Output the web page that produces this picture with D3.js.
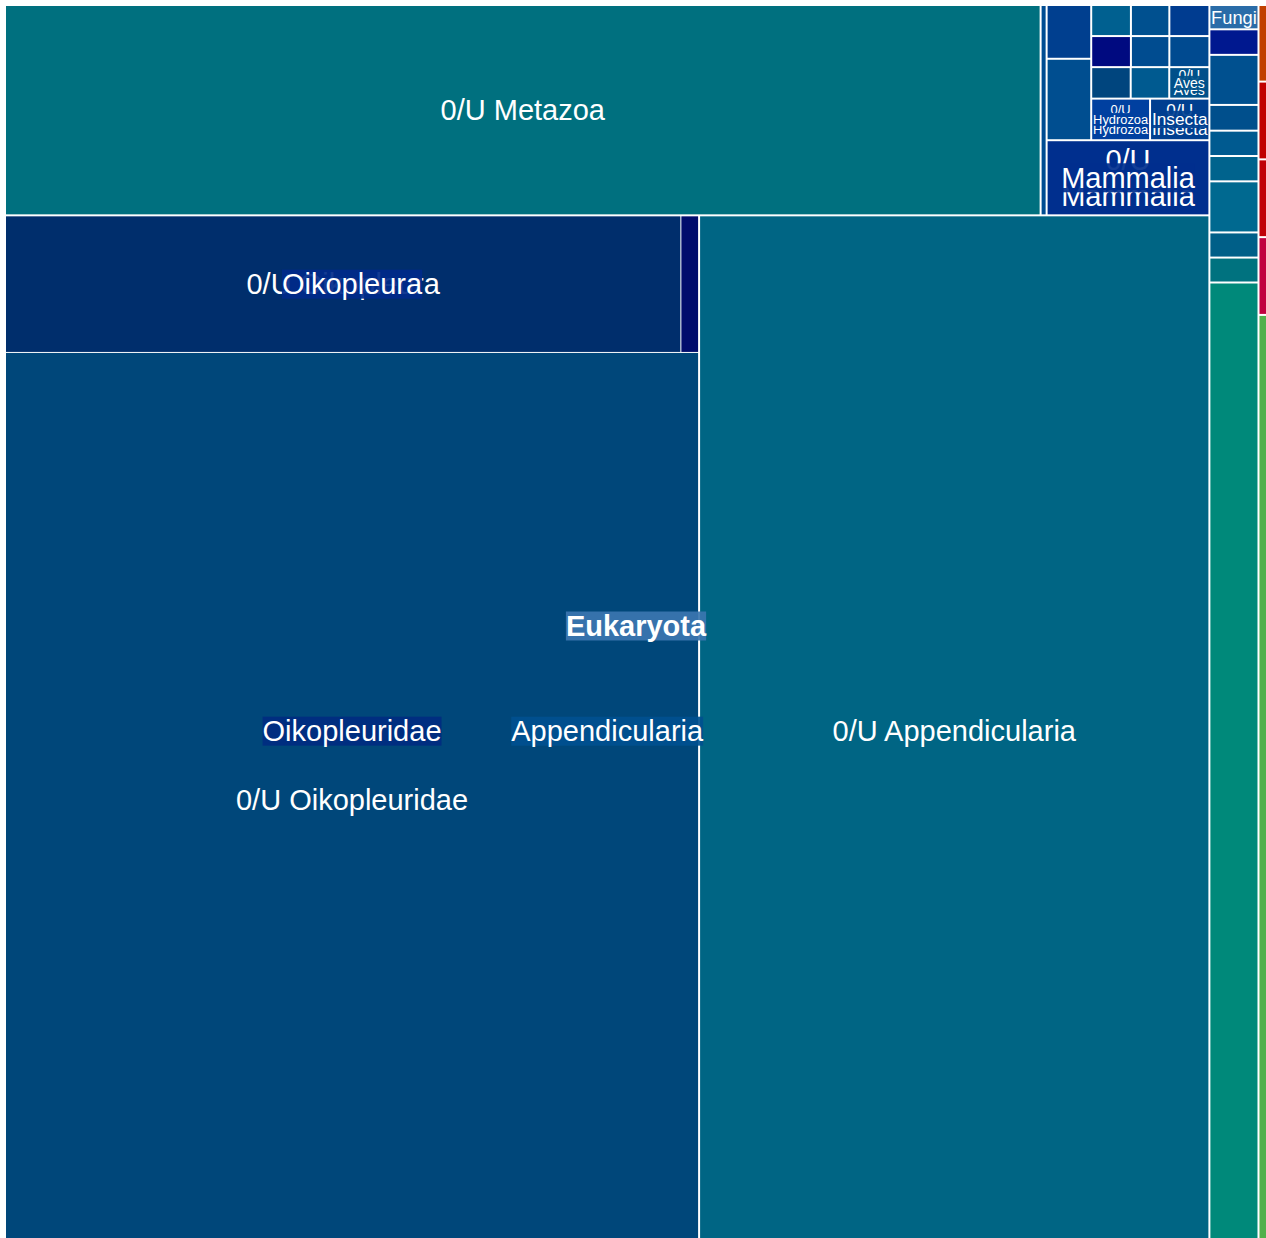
<!DOCTYPE html>
<html>
<head>
<meta charset="utf-8">
<script src="https://cdn.jsdelivr.net/npm/d3@7"></script>
<style>
    html, body { margin: 0; padding: 0; overflow: hidden; background: #fff; }
    text { font-family: "Liberation Sans", Arial, Helvetica, sans-serif; fill: #fff; }
</style>
</head>
<body>
<div id="treemap"></div>
<script>
// taxonomy table: taxon, parent taxon, rank, read count (leaves only)
const taxa = [
    'Eukaryota',
    'Opisthokonta', 'Stramenopiles', 'Alveolata', 'Rhizaria', 'Haptista', 'Viridiplantae',
    'Metazoa', 'Fungi', 'Choanoflagellata', 'Ichthyosporea', 'Rotosphaerida', 'Nucleariida',
    'Corallochytrea', 'Pluriformea', 'Opisthosporidia', 'Ministeriida', '0/U Opisthokonta',
    '0/U Metazoa', 'Demospongiae', 'Gastropoda', 'Polychaeta', 'Actinopteri', 'Hexanauplia',
    'Malacostraca', 'Anthozoa', 'Arachnida', 'Cephalopoda', 'Chromadorea', 'Scyphozoa',
    'Aves', 'Hydrozoa', 'Insecta', 'Mammalia', 'Appendicularia',
    '0/U Aves', '0/U Hydrozoa', '0/U Insecta', '0/U Mammalia',
    'Oikopleuridae', '0/U Appendicularia',
    'Oikopleura', '0/U Oikopleuridae',
    '0/U Oikopleura', 'Oikopleura dioica'
];
const parentTaxa = [
    '',
    'Eukaryota', 'Eukaryota', 'Eukaryota', 'Eukaryota', 'Eukaryota', 'Eukaryota',
    'Opisthokonta', 'Opisthokonta', 'Opisthokonta', 'Opisthokonta', 'Opisthokonta', 'Opisthokonta',
    'Opisthokonta', 'Opisthokonta', 'Opisthokonta', 'Opisthokonta', 'Opisthokonta',
    'Metazoa', 'Metazoa', 'Metazoa', 'Metazoa', 'Metazoa', 'Metazoa',
    'Metazoa', 'Metazoa', 'Metazoa', 'Metazoa', 'Metazoa', 'Metazoa',
    'Metazoa', 'Metazoa', 'Metazoa', 'Metazoa', 'Metazoa',
    'Aves', 'Hydrozoa', 'Insecta', 'Mammalia',
    'Appendicularia', 'Appendicularia',
    'Oikopleuridae', 'Oikopleuridae',
    'Oikopleura', 'Oikopleura'
];
const ranks = [
    'superkingdom',
    'clade', 'clade', 'clade', 'clade', 'clade', 'kingdom',
    'kingdom', 'kingdom', 'class', 'class', 'order', 'order',
    'class', 'order', 'clade', 'order', 'unassigned',
    'unassigned', 'class', 'class', 'class', 'class', 'class',
    'class', 'class', 'class', 'class', 'class', 'class',
    'class', 'class', 'class', 'class', 'class',
    'unassigned', 'unassigned', 'unassigned', 'unassigned',
    'family', 'unassigned',
    'genus', 'unassigned',
    'unassigned', 'species'
];
const reads = [
    0,
    0, 65, 66, 66, 66, 791,
    0, 119, 125, 245, 126, 124,
    124, 250, 123, 122, 4720,
    21714, 126, 239, 362, 123, 119,
    124, 123, 119, 124, 124, 121,
    0, 0, 0, 0, 0,
    126, 244, 246, 1219,
    0, 52479,
    0, 61920,
    9218, 242
];

// ranks whose parent boxes carry a label
const labelledRanks = ['superkingdom', 'class', 'family', 'genus'];

// how children are arranged inside a parent ('x' = side by side, 'y' = stacked)
const arrangement = {
    'Eukaryota': ['x', 'Opisthokonta',
        ['y', 'Stramenopiles', 'Alveolata', 'Rhizaria', 'Haptista', 'Viridiplantae']],
    'Opisthokonta': ['x', 'Metazoa',
        ['y', 'Fungi', 'Choanoflagellata', 'Ichthyosporea', 'Rotosphaerida', 'Nucleariida',
            'Corallochytrea', 'Pluriformea', 'Opisthosporidia', 'Ministeriida', '0/U Opisthokonta']],
    'Metazoa': ['y',
        ['x', '0/U Metazoa', 'Demospongiae',
            ['y',
                ['x',
                    ['y', 'Gastropoda', 'Polychaeta'],
                    ['y',
                        ['x', 'Actinopteri', 'Hexanauplia', 'Malacostraca'],
                        ['x', 'Anthozoa', 'Arachnida', 'Cephalopoda'],
                        ['x', 'Chromadorea', 'Scyphozoa', 'Aves'],
                        ['x', 'Hydrozoa', 'Insecta']]],
                'Mammalia']],
        'Appendicularia'],
    'Appendicularia': ['x', 'Oikopleuridae', '0/U Appendicularia'],
    'Oikopleuridae': ['y', 'Oikopleura', '0/U Oikopleuridae'],
    'Oikopleura': ['x', '0/U Oikopleura', 'Oikopleura dioica']
};

const cellColours = {
    'Stramenopiles': '#c04000', 'Alveolata': '#c00000', 'Rhizaria': '#c00008',
    'Haptista': '#c00040', 'Viridiplantae': '#50b04c',
    'Fungi': '#2a6ca8', 'Choanoflagellata': '#00188f', 'Ichthyosporea': '#00508f',
    'Rotosphaerida': '#004f8c', 'Nucleariida': '#005a90', 'Corallochytrea': '#00638d',
    'Pluriformea': '#006990', 'Opisthosporidia': '#005f88', 'Ministeriida': '#00727f',
    '0/U Opisthokonta': '#00897a',
    '0/U Metazoa': '#00707f', 'Demospongiae': '#004c92',
    'Gastropoda': '#003f8f', 'Polychaeta': '#004e90',
    'Actinopteri': '#006090', 'Hexanauplia': '#00508f', 'Malacostraca': '#003c90',
    'Anthozoa': '#000a80', 'Arachnida': '#004c90', 'Cephalopoda': '#004a90',
    'Chromadorea': '#00457e', 'Scyphozoa': '#005a90',
    '0/U Aves': '#00508a', '0/U Hydrozoa': '#0040a0', '0/U Insecta': '#003f90',
    '0/U Mammalia': '#002f8e',
    '0/U Appendicularia': '#006584', '0/U Oikopleuridae': '#00477a',
    '0/U Oikopleura': '#002e6c', 'Oikopleura dioica': '#000c6c'
};
const boxColours = {
    'Eukaryota': '#3b76b0', 'Appendicularia': '#00508f', 'Oikopleuridae': '#002d80',
    'Oikopleura': '#002a8a', 'Mammalia': '#002f8e', 'Aves': '#00508a',
    'Hydrozoa': '#0040a0', 'Insecta': '#003f90'
};

const margin = { top: 6, left: 6 };
const width = 1260;
const height = 1240;
const maxFont = 29;
const minFont = 11;

const svg = d3.select('#treemap')
    .append('svg')
    .attr('width', width + margin.left + 6)
    .attr('height', height + margin.top + 6);

const chart = svg.append('g')
    .attr('transform', `translate(${margin.left}, ${margin.top})`);

// lay children out following the arrangement, splitting by summed reads
const tile = (parent, x0, y0, x1, y1) => {
    const recipe = arrangement[parent.data.name];
    if (!recipe) return d3.treemapSquarify(parent, x0, y0, x1, y1);
    const byName = new Map(parent.children.map(c => [c.data.name, c]));
    const total = part => typeof part === 'string'
        ? byName.get(part).value
        : d3.sum(part.slice(1), total);
    const place = (part, x0, y0, x1, y1) => {
        if (typeof part === 'string') {
            Object.assign(byName.get(part), { x0, y0, x1, y1 });
            return;
        }
        const [dir, ...items] = part;
        const sum = total(part);
        let pos = dir === 'x' ? x0 : y0;
        items.forEach(item => {
            const share = total(item) / sum;
            if (dir === 'x') {
                const next = pos + (x1 - x0) * share;
                place(item, pos, y0, next, y1);
                pos = next;
            } else {
                const next = pos + (y1 - y0) * share;
                place(item, x0, pos, x1, next);
                pos = next;
            }
        });
    };
    place(recipe, x0, y0, x1, y1);
};

const table = taxa.map((name, i) => ({
    name,
    parent: parentTaxa[i],
    rank: ranks[i],
    reads: reads[i]
}));

const root = d3.stratify()
    .id(d => d.name)
    .parentId(d => d.parent || null)(table)
    .sum(d => d.reads);

d3.treemap()
    .size([width, height])
    .tile(tile)
    .paddingInner(d => d.children.length === 1 ? 0 : (d.depth < 4 ? 2 : 1))(root);

// leaf cells
chart.selectAll('rect.cell')
    .data(root.leaves())
    .enter()
    .append('rect')
    .attr('class', 'cell')
    .attr('x', d => d.x0)
    .attr('y', d => d.y0)
    .attr('width', d => Math.max(0, d.x1 - d.x0))
    .attr('height', d => Math.max(0, d.y1 - d.y0))
    .attr('fill', d => cellColours[d.data.name]);

// text measuring helper
const probe = svg.append('text')
    .attr('font-size', 100)
    .attr('visibility', 'hidden');
const emWidth = (str, weight = 'normal') => {
    probe.attr('font-weight', weight).text(str);
    return probe.node().getComputedTextLength() / 100;
};

// leaf labels, wrapped on words when that gives a bigger font
const leafLabels = chart.append('g');
root.leaves().forEach(d => {
    const w = d.x1 - d.x0;
    const h = d.y1 - d.y0;
    const name = d.data.name;
    const words = name.split(' ');
    const oneLine = Math.min(maxFont, w * 0.97 / emWidth(name), h / 1.05);
    const wrapped = words.length > 1
        ? Math.min(maxFont, w * 0.97 / d3.max(words, s => emWidth(s)), h / (words.length * 1.05))
        : 0;
    const lines = wrapped > oneLine ? words : [name];
    const size = Math.max(oneLine, wrapped);
    if (size < minFont) return;
    lines.forEach((line, i) => {
        leafLabels.append('text')
            .attr('x', (d.x0 + d.x1) / 2)
            .attr('y', d.y0 + h * (2 * i + 1) / (2 * lines.length))
            .attr('dy', '0.35em')
            .attr('text-anchor', 'middle')
            .attr('font-size', size)
            .text(line);
    });
});

// parent labels with a box, deepest first so the root sits on top
const parents = root.descendants()
    .filter(d => d.children && labelledRanks.includes(d.data.rank))
    .sort((a, b) => b.depth - a.depth);

const parentLabels = chart.append('g');
parents.forEach(d => {
    const w = d.x1 - d.x0;
    const h = d.y1 - d.y0;
    const weight = d.depth === 0 ? 'bold' : 'normal';
    const em = emWidth(d.data.name, weight);
    const size = Math.min(maxFont, w * 0.97 / em, h / 2.1);
    if (size < minFont) return;
    const cx = (d.x0 + d.x1) / 2;
    const cy = (d.y0 + d.y1) / 2;
    const tw = em * size;
    parentLabels.append('rect')
        .attr('x', cx - tw / 2)
        .attr('y', cy - size / 2)
        .attr('width', tw)
        .attr('height', size)
        .attr('fill', boxColours[d.data.name])
        .attr('fill-opacity', 0.92);
    parentLabels.append('text')
        .attr('x', cx)
        .attr('y', cy)
        .attr('dy', '0.35em')
        .attr('text-anchor', 'middle')
        .attr('font-size', size)
        .attr('font-weight', weight)
        .text(d.data.name);
});

probe.remove();
</script>
</body>
</html>
